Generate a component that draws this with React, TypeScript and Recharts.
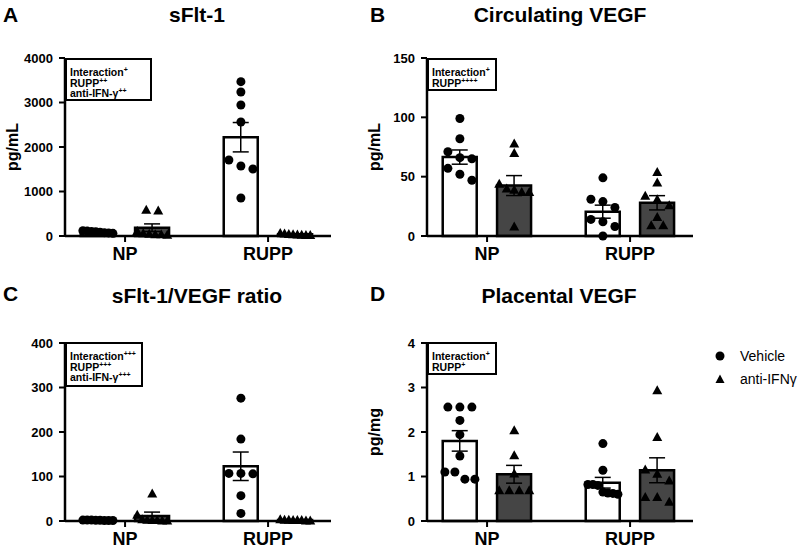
import React from 'react';
import { ComposedChart, Bar, Scatter, XAxis, YAxis, ErrorBar, Cell, Legend } from 'recharts';

const GROUPS = ['NP', 'RUPP'];
const SERIES = ['Vehicle', 'anti-IFNγ'];

// A: sFlt-1 (pg/mL) -- bar order: NP veh, NP anti, RUPP veh, RUPP anti
const SFLT_MEAN = [85, 187, 2220, 38];
const SFLT_SEM = [8, 85, 330, 7];
const SFLT_VEH = [[120, 110, 100, 95, 85, 75, 70, 60], [3468, 3236, 2944, 2562, 1708, 1573, 1506, 854]];
const SFLT_ANTI = [[590, 575, 110, 60, 50, 40, 40, 30], [70, 55, 45, 40, 35, 30, 25, 20]];
const SFLT_TICKS = [0, 1000, 2000, 3000, 4000];

// B: circulating VEGF (pg/mL)
const CVEGF_MEAN = [66.5, 42.5, 20.5, 28];
const CVEGF_SEM = [6, 8.4, 5.5, 6];
const CVEGF_VEH = [[99, 82, 71, 66, 65, 57, 52, 47], [49, 31, 29, 24, 14, 12, 8, 0]];
const CVEGF_ANTI = [[78, 70, 44, 40, 39, 37, 37, 8], [54, 45, 34, 31, 26, 16, 9, 9]];
const CVEGF_TICKS = [0, 50, 100, 150];

// C: sFlt-1/VEGF ratio
const RATIO_MEAN = [1.5, 11, 123, 2];
const RATIO_SEM = [0.2, 9, 32, 0.4];
const RATIO_VEH = [[2, 2, 2, 1.5, 1.5, 1, 1, 1], [276, 184, 107, 107, 106, 57, 17]];
const RATIO_ANTI = [[62, 14, 4, 3, 2, 2, 1, 1], [4, 3, 3, 2, 2, 2, 1, 1]];
const RATIO_TICKS = [0, 100, 200, 300, 400];

// D: placental VEGF (pg/mg)
const PVEGF_MEAN = [1.8, 1.05, 0.86, 1.14];
const PVEGF_SEM = [0.23, 0.2, 0.12, 0.28];
const PVEGF_VEH = [[2.56, 2.56, 2.56, 2.26, 1.94, 1.46, 1.1, 1.1, 0.94, 0.94], [1.74, 1.14, 0.82, 0.82, 0.8, 0.65, 0.63, 0.62, 0.6]];
const PVEGF_ANTI = [[2.04, 1.48, 1.07, 0.69, 0.69, 0.69, 0.69], [2.94, 1.89, 1.16, 1.06, 0.91, 0.54, 0.54, 0.43]];
const PVEGF_TICKS = [0, 1, 2, 3, 4];

const FONT = '"Liberation Sans", Arial, sans-serif';
const DARK = '#454545';
const X_DOMAIN = [-0.42, 1.44];
const X_PX = 143; // px per group unit
const PLOT_H = 178;
const OFF = 0.19;

// spread points with similar values sideways, like a column scatter
const swarm = (vals: number[], center: number, unitPx: number) => {
  const sorted = [...vals].sort((a, b) => b - a);
  const out: { x: number; y: number }[] = [];
  let i = 0;
  while (i < sorted.length) {
    let j = i + 1;
    while (j < sorted.length && (sorted[j - 1] - sorted[j]) * unitPx < 8) j++;
    const k = j - i;
    const step = k > 1 ? Math.min(12, 30 / (k - 1)) : 0;
    for (let m = 0; m < k; m++) {
      out.push({ x: center + ((m - (k - 1) / 2) * step) / X_PX, y: sorted[i + m] });
    }
    i = j;
  }
  return out;
};

const Dot = (p: any) => <circle cx={p.cx} cy={p.cy} r={4.5} fill="#000" />;
const Tri = (p: any) => (
  <polygon points={`${p.cx},${p.cy - 5} ${p.cx - 5},${p.cy + 4} ${p.cx + 5},${p.cy + 4}`} fill="#000" />
);

const renderLegend = () => (
  <div style={{ fontFamily: FONT, fontSize: 14, color: '#000' }}>
    {SERIES.map((s, i) => (
      <div key={s} style={{ display: 'flex', alignItems: 'center', height: 23 }}>
        <svg width={10} height={10} style={{ marginRight: 15 }}>
          {i === 0 ? <circle cx={5} cy={5} r={4.5} fill="#000" /> : <polygon points="5,0.5 0.5,9 9.5,9" fill="#000" />}
        </svg>
        <span>{s}</span>
      </div>
    ))}
  </div>
);

interface PanelProps {
  left: number;
  top: number;
  width: number;
  ylabel: string;
  yMax: number;
  ticks: number[];
  means: number[];
  sems: number[];
  veh: number[][];
  anti: number[][];
  legend?: boolean;
}

const Panel: React.FC<PanelProps> = ({ left, top, width, ylabel, yMax, ticks, means, sems, veh, anti, legend }) => {
  const barData = means.map((m, i) => ({
    x: Math.floor(i / 2) + (i % 2 ? OFF : -OFF),
    y: m,
    err: sems[i],
  }));
  const unitPx = PLOT_H / yMax;
  const vehPts = veh.flatMap((vals, g) => swarm(vals, g - OFF, unitPx));
  const antiPts = anti.flatMap((vals, g) => swarm(vals, g + OFF, unitPx));

  return (
    <div style={{ position: 'absolute', left, top }}>
      <ComposedChart width={width} height={268} data={barData} margin={{ top: 58, right: width - 331, left: 0, bottom: 0 }}>
        <XAxis
          type="number"
          dataKey="x"
          domain={X_DOMAIN}
          ticks={[0, 1]}
          interval={0}
          tickFormatter={(v) => GROUPS[v] ?? ''}
          height={32}
          tickSize={6}
          tickMargin={5}
          axisLine={{ stroke: '#000', strokeWidth: 2.5 }}
          tickLine={{ stroke: '#000', strokeWidth: 2 }}
          tick={{ fill: '#000', fontSize: 18, fontWeight: 700 }}
        />
        <XAxis xAxisId="pts" type="number" dataKey="x" domain={X_DOMAIN} hide />
        <YAxis
          type="number"
          domain={[0, yMax]}
          ticks={ticks}
          interval={0}
          width={65}
          tickSize={6}
          tickMargin={6}
          axisLine={{ stroke: '#000', strokeWidth: 2.5 }}
          tickLine={{ stroke: '#000', strokeWidth: 2 }}
          tick={{ fill: '#000', fontSize: 13, fontWeight: 700 }}
          label={{
            value: ylabel,
            angle: -90,
            position: 'insideLeft',
            offset: 12,
            style: { textAnchor: 'middle', fontSize: 16, fontWeight: 700, fill: '#000' },
          }}
        />
        <Bar dataKey="y" barSize={34} stroke="#000" strokeWidth={2.5} isAnimationActive={false}>
          {barData.map((_d, i) => (
            <Cell key={i} fill={i % 2 ? DARK : '#fff'} />
          ))}
          <ErrorBar dataKey="err" width={8} stroke="#000" strokeWidth={1.5} direction="y" />
        </Bar>
        <Scatter xAxisId="pts" data={vehPts} dataKey="y" shape={Dot} isAnimationActive={false} />
        <Scatter xAxisId="pts" data={antiPts} dataKey="y" shape={Tri} isAnimationActive={false} />
        {legend && (
          <Legend
            layout="vertical"
            align="center"
            verticalAlign="middle"
            content={renderLegend}
            wrapperStyle={{ left: 353, top: 59.5, width: 90 }}
          />
        )}
      </ComposedChart>
    </div>
  );
};

const StatBox: React.FC<{ left: number; top: number; w: number; h: number; lines: [string, string][] }> = ({ left, top, w, h, lines }) => (
  <div
    style={{
      position: 'absolute', left, top, width: w, height: h, boxSizing: 'border-box',
      border: '2px solid #000', background: '#fff', padding: '8px 0 0 3px',
      fontSize: 10.5, lineHeight: '9.5px', fontWeight: 700, whiteSpace: 'nowrap',
    }}
  >
    {lines.map(([t, sup]) => (
      <div key={t}>
        {t}
        <span style={{ fontSize: 7, position: 'relative', top: -4 }}>{sup}</span>
      </div>
    ))}
  </div>
);

const textStyle: React.CSSProperties = { position: 'absolute', fontSize: 21, lineHeight: '21px', fontWeight: 700, whiteSpace: 'nowrap' };

const App: React.FC = () => (
  <div style={{ position: 'absolute', left: 0, top: 0, width: 800, height: 548, background: '#fff', fontFamily: FONT, color: '#000', overflow: 'hidden' }}>
    <Panel left={0} top={0} width={345} ylabel="pg/mL" yMax={4000} ticks={SFLT_TICKS} means={SFLT_MEAN} sems={SFLT_SEM} veh={SFLT_VEH} anti={SFLT_ANTI} />
    <Panel left={362} top={0} width={345} ylabel="pg/mL" yMax={150} ticks={CVEGF_TICKS} means={CVEGF_MEAN} sems={CVEGF_SEM} veh={CVEGF_VEH} anti={CVEGF_ANTI} />
    <Panel left={0} top={284.7} width={345} ylabel="" yMax={400} ticks={RATIO_TICKS} means={RATIO_MEAN} sems={RATIO_SEM} veh={RATIO_VEH} anti={RATIO_ANTI} />
    <Panel left={362} top={284.7} width={438} ylabel="pg/mg" yMax={4} ticks={PVEGF_TICKS} means={PVEGF_MEAN} sems={PVEGF_SEM} veh={PVEGF_VEH} anti={PVEGF_ANTI} legend />

    <StatBox left={65} top={58} w={87} h={43} lines={[['Interaction', '+'], ['RUPP', '++'], ['anti-IFN-γ', '++']]} />
    <StatBox left={427} top={58} w={70} h={33} lines={[['Interaction', '+'], ['RUPP', '++++']]} />
    <StatBox left={65} top={342} w={78} h={45} lines={[['Interaction', '+++'], ['RUPP', '+++'], ['anti-IFN-γ', '+++']]} />
    <StatBox left={427} top={342} w={70} h={33} lines={[['Interaction', '+'], ['RUPP', '+']]} />

    <div style={{ ...textStyle, left: 3, top: 3.7 }}>A</div>
    <div style={{ ...textStyle, left: 370, top: 3.7 }}>B</div>
    <div style={{ ...textStyle, left: 3, top: 282.7 }}>C</div>
    <div style={{ ...textStyle, left: 370, top: 282.7 }}>D</div>

    <div style={{ ...textStyle, left: 47, width: 300, textAlign: 'center', top: 3.7 }}>sFlt-1</div>
    <div style={{ ...textStyle, left: 410, width: 300, textAlign: 'center', top: 3.7 }}>Circulating VEGF</div>
    <div style={{ ...textStyle, left: 47, width: 300, textAlign: 'center', top: 284.7 }}>sFlt-1/VEGF ratio</div>
    <div style={{ ...textStyle, left: 409, width: 300, textAlign: 'center', top: 284.7 }}>Placental VEGF</div>
  </div>
);

export default App;
